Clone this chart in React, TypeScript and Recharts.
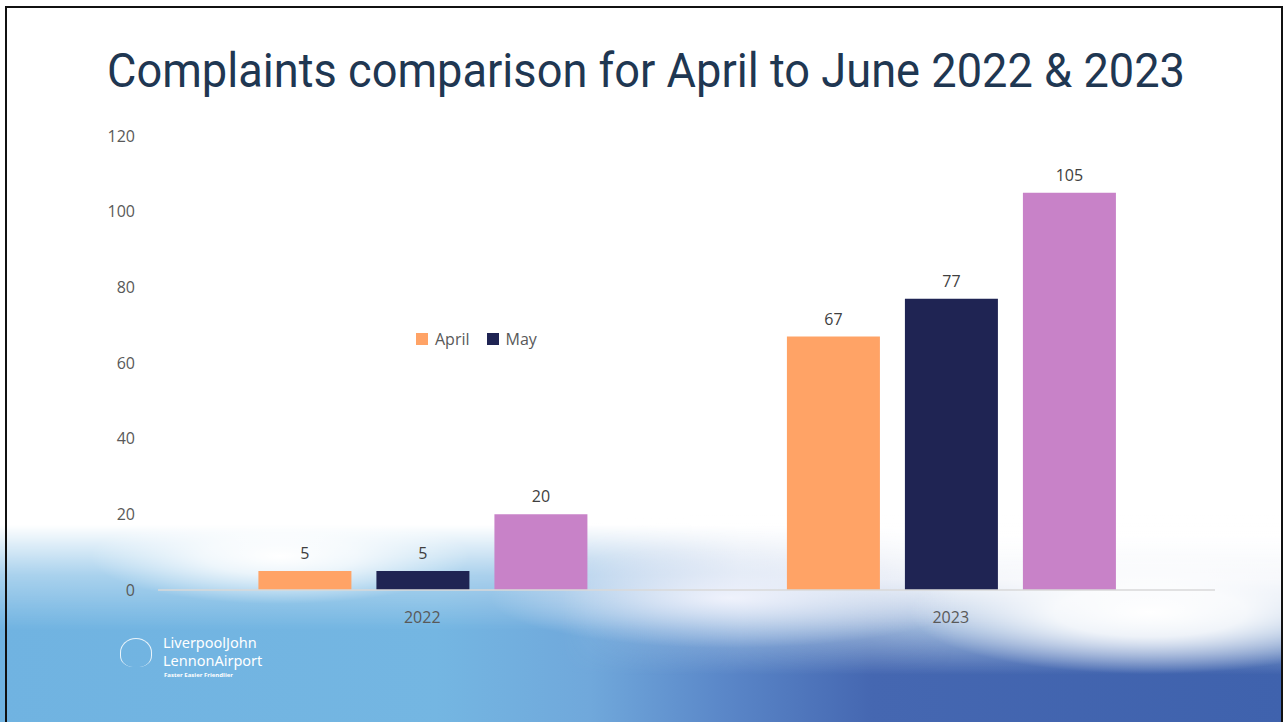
import React from "react";
import { BarChart, Bar, XAxis, YAxis, Legend, LabelList } from "recharts";

const years = ["2022", "2023"];
const april = [5, 67];
const may = [5, 77];
const june = [20, 105];
const yTicks = [0, 20, 40, 60, 80, 100, 120];
const legendItems = ["April", "May"];

const COLORS: Record<string, string> = { April: "#ffa366", May: "#1f2453", June: "#c882c8" };

const data = years.map((y, i) => ({ year: y, April: april[i], May: may[i], June: june[i] }));

const FONT = "'Open Sans', 'Noto Sans', sans-serif";

const LegendContent = () => (
  <div style={{ display: "flex", alignItems: "center", fontFamily: FONT, fontSize: 16, color: "#595959" }}>
    {legendItems.map((name) => (
      <div key={name} style={{ display: "flex", alignItems: "center", marginRight: 17 }}>
        <span style={{ display: "inline-block", width: 12, height: 12, background: COLORS[name], marginRight: 7 }} />
        <span>{name}</span>
      </div>
    ))}
  </div>
);

export default function App() {
  return (
    <div
      style={{
        position: "fixed",
        left: 0,
        top: 0,
        width: 1283,
        height: 722,
        overflow: "hidden",
        background: "#ffffff",
        fontFamily: FONT,
      }}
    >
      {/* blue wave background */}
      <div
        style={{
          position: "absolute",
          left: 0,
          top: 525,
          width: 1283,
          height: 197,
          background:
            "linear-gradient(to right, #70b3e1 0%, #74b6e2 34%, #70a8db 46%, #5b88c9 56%, #4567b1 68%, #3f62ad 100%)",
          WebkitMaskImage: "linear-gradient(to bottom, transparent 0px, rgba(0,0,0,0.6) 50px, black 105px)",
          maskImage: "linear-gradient(to bottom, transparent 0px, rgba(0,0,0,0.6) 50px, black 105px)",
        }}
      />
      {/* white fade over the right part of the wave */}
      <div
        style={{
          position: "absolute",
          left: 560,
          top: 515,
          width: 723,
          height: 160,
          WebkitMaskImage: "linear-gradient(to right, transparent 0%, rgba(0,0,0,0.7) 25%, black 55%)",
          maskImage: "linear-gradient(to right, transparent 0%, rgba(0,0,0,0.7) 25%, black 55%)",
        }}
      >
        <div
          style={{
            width: "100%",
            height: "100%",
            background:
              "linear-gradient(to bottom, rgba(255,255,255,1) 0%, rgba(255,255,255,0.9) 40%, rgba(225,246,252,0.55) 72%, rgba(255,255,255,0) 100%)",
          }}
        />
      </div>
      <div
        style={{
          position: "absolute",
          left: 0,
          top: 0,
          width: 1283,
          height: 722,
          background:
            "radial-gradient(ellipse 190px 48px at 280px 556px, rgba(255,255,255,1) 0%, rgba(255,255,255,0.75) 40%, rgba(255,255,255,0) 100%)," +
            "radial-gradient(ellipse 240px 62px at 1150px 612px, rgba(255,255,255,1) 0%, rgba(255,255,255,0.85) 40%, rgba(255,255,255,0) 100%)," +
            "radial-gradient(ellipse 240px 50px at 730px 598px, rgba(248,248,255,0.85) 0%, rgba(240,244,252,0.45) 50%, rgba(255,255,255,0) 100%)",
        }}
      />
      {/* logo */}
      <div style={{ position: "absolute", left: 118, top: 634, color: "#ffffff" }}>
        <div
          style={{
            position: "absolute",
            left: 2,
            top: 4,
            width: 30,
            height: 28,
            borderLeft: "1.5px solid rgba(255,255,255,0.85)",
            borderRight: "1.5px solid rgba(255,255,255,0.85)",
            borderTop: "1.5px solid rgba(255,255,255,0.85)",
            borderRadius: "50% 50% 40% 40%",
          }}
        />
        <div style={{ position: "absolute", left: 45, top: 0, fontSize: 14.5, lineHeight: "16px", fontFamily: "'Noto Sans', sans-serif", whiteSpace: "nowrap" }}>
          LiverpoolJohn
        </div>
        <div style={{ position: "absolute", left: 45, top: 18, fontSize: 14.5, lineHeight: "16px", fontFamily: "'Noto Sans', sans-serif", whiteSpace: "nowrap" }}>
          LennonAirport
        </div>
        <div style={{ position: "absolute", left: 46, top: 38, fontSize: 6, lineHeight: "7px", whiteSpace: "nowrap", fontWeight: 700 }}>
          Faster Easier Friendlier
        </div>
      </div>
      {/* border */}
      <div
        style={{
          position: "absolute",
          left: 5,
          top: 6,
          width: 1278,
          height: 730,
          border: "2px solid #111111",
          boxSizing: "border-box",
        }}
      />
      {/* title */}
      <svg style={{ position: "absolute", left: 0, top: 0 }} width={1283} height={120}>
        <text
          x={107}
          y={87}
          fontFamily="Roboto, 'Noto Sans', sans-serif"
          fontSize={49}
          fill="#1f3752"
          textLength={1078}
          lengthAdjust="spacingAndGlyphs"
        >
          Complaints comparison for April to June 2022 &amp; 2023
        </text>
      </svg>
      <div style={{ position: "absolute", left: 0, top: 0 }}>
        <BarChart
          width={1283}
          height={722}
          data={data}
          margin={{ top: 136, right: 68, bottom: 102, left: 0 }}
          barCategoryGap="19%"
          barGap={25}
        >
          <XAxis
            dataKey="year"
            height={30}
            tickLine={false}
            axisLine={{ stroke: "#d9d9d9", strokeWidth: 1.5 }}
            tick={{ fill: "#595959", fontSize: 16, fontFamily: FONT }}
            tickMargin={16}
          />
          <YAxis
            width={158}
            domain={[0, 120]}
            ticks={yTicks}
            axisLine={false}
            tickLine={false}
            tickMargin={17}
            tick={{ fill: "#595959", fontSize: 16, fontFamily: FONT }}
          />
          <Legend
            layout="horizontal"
            align="center"
            verticalAlign="middle"
            content={LegendContent}
            wrapperStyle={{ position: "absolute", left: 416, top: 328, width: 200 }}
          />
          <Bar dataKey="April" fill={COLORS.April} isAnimationActive={false}>
            <LabelList dataKey="April" position="top" offset={12} fill="#404040" fontSize={16} fontFamily={FONT} />
          </Bar>
          <Bar dataKey="May" fill={COLORS.May} isAnimationActive={false}>
            <LabelList dataKey="May" position="top" offset={12} fill="#404040" fontSize={16} fontFamily={FONT} />
          </Bar>
          <Bar dataKey="June" fill={COLORS.June} legendType="none" isAnimationActive={false}>
            <LabelList dataKey="June" position="top" offset={12} fill="#404040" fontSize={16} fontFamily={FONT} />
          </Bar>
        </BarChart>
      </div>
    </div>
  );
}
